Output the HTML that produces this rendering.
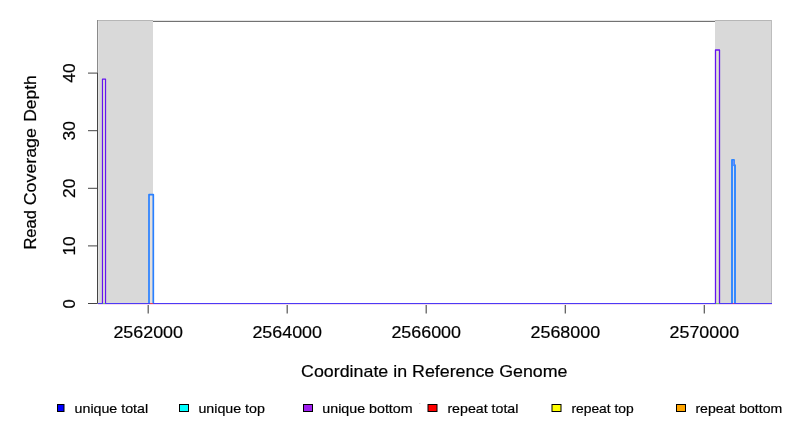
<!DOCTYPE html>
<html><head><meta charset="utf-8">
<style>
html,body{margin:0;padding:0;background:#fff;width:792px;height:432px;overflow:hidden}
svg{display:block}
text{font-family:"Liberation Sans",sans-serif;fill:#000}
.t{filter:saturate(0)}
.t text{stroke:#000;stroke-width:0.2px}
</style></head><body>
<svg width="792" height="432" viewBox="0 0 792 432">
<!-- gray regions -->
<rect x="97" y="20" width="56" height="283" fill="#d9d9d9"/>
<rect x="715" y="20" width="57" height="283" fill="#d9d9d9"/>
<!-- frame box -->
<rect x="153" y="21" width="562" height="1" fill="#727272"/>
<rect x="153" y="20" width="562" height="1" fill="#e4e4e4"/>
<rect x="97" y="20" width="56" height="1" fill="#b6b6b6"/>
<rect x="715" y="20" width="56" height="1" fill="#b6b6b6"/>
<rect x="98" y="21" width="1" height="282" fill="#e2e2e2"/>
<rect x="97" y="20" width="1" height="53" fill="#8a8a8a"/>
<rect x="771" y="20" width="1" height="283" fill="#bdbdbd"/>
<!-- y axis line & ticks -->
<g stroke="#444" stroke-width="1" fill="none">
<line x1="97.5" y1="303.5" x2="97.5" y2="73"/>
<line x1="88" y1="303.5" x2="97.5" y2="303.5"/>
<line x1="88" y1="245.9" x2="97.5" y2="245.9"/>
<line x1="88" y1="188.3" x2="97.5" y2="188.3"/>
<line x1="88" y1="130.7" x2="97.5" y2="130.7"/>
<line x1="88" y1="73.1" x2="97.5" y2="73.1"/>
</g>
<g stroke="#555" stroke-width="1.2" fill="none">
<line x1="148.2" y1="303.5" x2="148.2" y2="313.5"/>
<line x1="287.2" y1="303.5" x2="287.2" y2="313.5"/>
<line x1="426.2" y1="303.5" x2="426.2" y2="313.5"/>
<line x1="565.3" y1="303.5" x2="565.3" y2="313.5"/>
<line x1="704.3" y1="303.5" x2="704.3" y2="313.5"/>
</g>
<!-- spikes -->
<rect x="103" y="79" width="2" height="224" fill="#e6edd3"/>
<path d="M102.5 303.5 V79 H105.5 V303.5" fill="none" stroke="#6514f0" stroke-width="1.25" stroke-linejoin="round"/>
<rect x="150" y="194.5" width="3" height="109" fill="#e6e0dc"/>
<path d="M149 303.5 V194.6 H153.3 V303.5" fill="none" stroke="#2a80ff" stroke-width="1.7" stroke-linejoin="round"/>
<rect x="716" y="50.5" width="3" height="253" fill="#e2e6d2"/>
<path d="M715.5 303.5 V50 H719.5 V303.5" fill="none" stroke="#6514f0" stroke-width="1.3" stroke-linejoin="round"/>
<rect x="733" y="165" width="1" height="138" fill="#d8dcea"/>
<path d="M732 303.5 V159.9 H734 V165.3 H735 V303.5" fill="none" stroke="#2e86ff" stroke-width="1.9" stroke-linejoin="round"/>
<rect x="733" y="160.5" width="1.2" height="5" fill="#6a8cf8"/>
<!-- baseline -->
<rect x="98" y="304" width="674" height="1" fill="#f3dcef"/>
<line x1="98" y1="303.5" x2="772" y2="303.5" stroke="#4c3af6" stroke-width="1.1"/>
<rect x="103" y="303" width="2" height="1" fill="#78c86a"/>
<rect x="716" y="303" width="3" height="1" fill="#78c86a"/>
<rect x="150" y="303" width="3" height="1" fill="#e04060"/>
<rect x="733" y="303" width="1" height="1" fill="#e04060"/>
<g class="t">
<!-- x tick labels -->
<g font-size="17.1" text-anchor="middle">
<text x="148.2" y="338" textLength="69.6" lengthAdjust="spacingAndGlyphs">2562000</text>
<text x="287.2" y="338" textLength="69.6" lengthAdjust="spacingAndGlyphs">2564000</text>
<text x="426.2" y="338" textLength="69.6" lengthAdjust="spacingAndGlyphs">2566000</text>
<text x="565.3" y="338" textLength="69.6" lengthAdjust="spacingAndGlyphs">2568000</text>
<text x="704.3" y="338" textLength="69.6" lengthAdjust="spacingAndGlyphs">2570000</text>
</g>
<!-- y tick labels -->
<g font-size="16.6" text-anchor="middle">
<text transform="translate(75,304) rotate(-90)" textLength="9.2" lengthAdjust="spacingAndGlyphs">0</text>
<text transform="translate(75,245.9) rotate(-90)" textLength="19.4" lengthAdjust="spacingAndGlyphs">10</text>
<text transform="translate(75,188.3) rotate(-90)" textLength="19.4" lengthAdjust="spacingAndGlyphs">20</text>
<text transform="translate(75,130.7) rotate(-90)" textLength="19.4" lengthAdjust="spacingAndGlyphs">30</text>
<text transform="translate(75,73.1) rotate(-90)" textLength="19.4" lengthAdjust="spacingAndGlyphs">40</text>
</g>
<!-- axis titles -->
<text x="434.3" y="376.7" font-size="17" text-anchor="middle" textLength="266.4" lengthAdjust="spacingAndGlyphs">Coordinate in Reference Genome</text>
<g font-size="17">
<text transform="translate(36.2,249.6) rotate(-90)" textLength="39.4" lengthAdjust="spacingAndGlyphs">Read</text>
<text transform="translate(36.2,205.2) rotate(-90)" textLength="77" lengthAdjust="spacingAndGlyphs">Coverage</text>
<text transform="translate(36.2,121.8) rotate(-90)" textLength="46.6" lengthAdjust="spacingAndGlyphs">Depth</text>
</g>
</g>
<!-- legend -->
<g stroke="#000" stroke-width="1">
<rect x="57.5" y="404.5" width="6.5" height="7" fill="#0000ff"/>
<rect x="179.5" y="404.5" width="9" height="7" fill="#00ffff"/>
<rect x="303.5" y="404.5" width="9" height="7" fill="#a020f0"/>
<rect x="428" y="404.5" width="9" height="7" fill="#ff0000"/>
<rect x="552" y="404.5" width="9" height="7" fill="#ffff00"/>
<rect x="676.5" y="404.5" width="9" height="7" fill="#ffa500"/>
</g>
<g font-size="13.4" class="t">
<text x="74.6" y="412.9" textLength="73.5" lengthAdjust="spacingAndGlyphs">unique total</text>
<text x="198.4" y="412.9" textLength="66.5" lengthAdjust="spacingAndGlyphs">unique top</text>
<text x="322.3" y="412.9" textLength="90.3" lengthAdjust="spacingAndGlyphs">unique bottom</text>
<text x="447.4" y="412.9" textLength="71" lengthAdjust="spacingAndGlyphs">repeat total</text>
<text x="571.4" y="412.9" textLength="62.3" lengthAdjust="spacingAndGlyphs">repeat top</text>
<text x="695.4" y="412.9" textLength="86.8" lengthAdjust="spacingAndGlyphs">repeat bottom</text>
</g>
<rect x="419" y="403" width="1.5" height="1" fill="#d8d8d8"/>
</svg>
</body></html>
